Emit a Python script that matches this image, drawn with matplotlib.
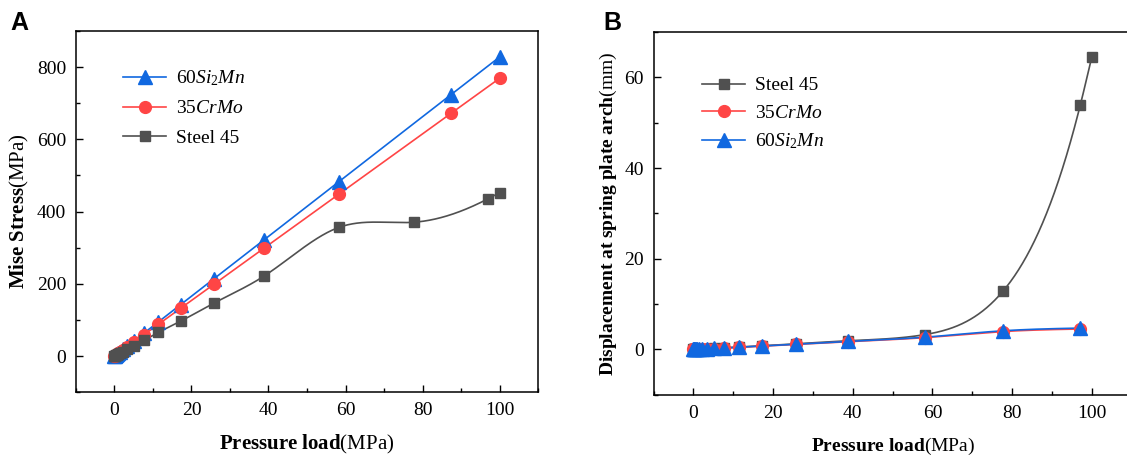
import numpy as np
import matplotlib
matplotlib.use("Agg")
import matplotlib.pyplot as plt
from matplotlib.ticker import MultipleLocator

plt.rcParams['font.family'] = 'Liberation Serif'
plt.rcParams['mathtext.fontset'] = 'custom'
plt.rcParams['mathtext.rm'] = 'Liberation Serif'
plt.rcParams['mathtext.it'] = 'Liberation Serif:italic'
plt.rcParams['mathtext.bf'] = 'Liberation Serif:bold'

# pressure load steps (MPa)
load = [0, 0.1, 0.2, 0.35, 0.575, 0.9125, 1.42, 2.18, 3.32, 5.03, 7.59,
        11.43, 17.19, 25.83, 38.79, 58.23, 87.40, 100]
load_steel = [0, 0.1, 0.2, 0.35, 0.575, 0.9125, 1.42, 2.18, 3.32, 5.03, 7.59,
              11.43, 17.19, 25.83, 38.79, 58.23, 77.67, 97.11, 100]
load_b = [0, 0.1, 0.2, 0.35, 0.575, 0.9125, 1.42, 2.18, 3.32, 5.03, 7.59,
          11.43, 17.19, 25.83, 38.79, 58.23, 77.67, 97.11]

# panel A: Mises stress (MPa)
stress_si2mn = [0, 0.8, 1.7, 2.9, 4.8, 7.6, 11.8, 18.1, 27.5, 41.6, 62.8,
                94.6, 142.3, 213.9, 321.2, 482.2, 724.0, 828.0]
stress_crmo = [0, 0.8, 1.5, 2.7, 4.4, 7.0, 10.9, 16.8, 25.5, 38.7, 58.4,
               87.9, 132.2, 198.6, 298.3, 448.0, 672.5, 769.0]
stress_steel = [0, 0.6, 1.1, 2.0, 3.2, 5.2, 8.0, 12.3, 18.8, 28.4, 43.0,
                65.5, 96.5, 146.5, 221.0, 356.0, 370.5, 436.0, 452.5]

# panel B: displacement (mm)
disp_steel = [0, 0.005, 0.01, 0.017, 0.028, 0.043, 0.068, 0.105, 0.16, 0.24,
              0.36, 0.54, 0.82, 1.25, 1.92, 3.3, 12.8, 53.8, 64.4]
disp_crmo = [0, 0.005, 0.009, 0.015, 0.025, 0.039, 0.062, 0.095, 0.145, 0.21,
             0.32, 0.48, 0.73, 1.12, 1.72, 2.62, 3.95, 4.52]
disp_si2mn = [0, 0.005, 0.009, 0.016, 0.026, 0.04, 0.065, 0.1, 0.15, 0.22,
              0.33, 0.5, 0.76, 1.16, 1.78, 2.72, 4.12, 4.72]

BLUE = '#1068E0'
RED = '#FF4545'
GRAY = '#505050'


def spline(x, y, n=600):
    # natural cubic spline through the points, for the smooth connecting line
    x = np.asarray(x, float)
    y = np.asarray(y, float)
    k = len(x)
    h = np.diff(x)
    A = np.zeros((k, k))
    r = np.zeros(k)
    A[0, 0] = A[-1, -1] = 1
    for i in range(1, k - 1):
        A[i, i - 1] = h[i - 1]
        A[i, i] = 2 * (h[i - 1] + h[i])
        A[i, i + 1] = h[i]
        r[i] = 6 * ((y[i + 1] - y[i]) / h[i] - (y[i] - y[i - 1]) / h[i - 1])
    m = np.linalg.solve(A, r)
    xs = np.linspace(x[0], x[-1], n)
    j = np.clip(np.searchsorted(x, xs) - 1, 0, k - 2)
    t = xs - x[j]
    hj = h[j]
    a = (x[j + 1] - xs) / hj
    b = t / hj
    ys = a * y[j] + b * y[j + 1] + ((a ** 3 - a) * m[j] + (b ** 3 - b) * m[j + 1]) * hj ** 2 / 6
    return xs, ys


def series(ax, x, y, color, marker, ms, label, lw=1.2):
    xs, ys = spline(x, y)
    ax.plot(xs, ys, color=color, lw=lw, zorder=2)
    ax.plot(x, y, ls='none', marker=marker, ms=ms, color=color, zorder=3)
    ax.plot([], [], color=color, lw=lw, marker=marker, ms=ms, label=label)


def style(ax):
    for s in ax.spines.values():
        s.set_linewidth(1.1)
    ax.tick_params(which='both', direction='in', top=False, right=False,
                   labelsize=14, width=1.0, pad=7)
    ax.tick_params(which='major', length=5)
    ax.tick_params(which='minor', length=3)
    ax.xaxis.set_major_locator(MultipleLocator(20))
    ax.xaxis.set_minor_locator(MultipleLocator(10))
    ax.set_xlim(-10, 110)


fig = plt.figure(figsize=(11.27, 4.57), dpi=100)

axA = fig.add_axes([0.0674, 0.142, 0.41, 0.790])
series(axA, load, stress_si2mn, BLUE, '^', 9.5, r'60$Si_2Mn$')
series(axA, load, stress_crmo, RED, 'o', 8.5, r'35$CrMo$')
series(axA, load_steel, stress_steel, GRAY, 's', 7, 'Steel 45')
style(axA)
axA.set_ylim(-100, 900)
axA.yaxis.set_major_locator(MultipleLocator(200))
axA.yaxis.set_minor_locator(MultipleLocator(100))
axA.set_xlabel(r'$\mathbf{Pressure\ load}$(MPa)', fontsize=15, labelpad=10)
axA.set_ylabel(r'$\mathbf{Mise\ Stress}$(MPa)', fontsize=15, labelpad=4)
axA.legend(loc='upper left', bbox_to_anchor=(0.065, 0.945), frameon=False,
           fontsize=14, handlelength=2.2, labelspacing=0.6, handletextpad=0.5)

axB = fig.add_axes([0.580, 0.136, 0.424, 0.794])
series(axB, load_steel, disp_steel, GRAY, 's', 7, 'Steel 45')
series(axB, load_b, disp_crmo, RED, 'o', 8.5, r'35$CrMo$')
series(axB, load_b, disp_si2mn, BLUE, '^', 9.5, r'60$Si_2Mn$')
style(axB)
axB.set_ylim(-10, 70)
axB.yaxis.set_major_locator(MultipleLocator(20))
axB.yaxis.set_minor_locator(MultipleLocator(10))
axB.set_xlabel(r'$\mathbf{Pressure\ load}$(MPa)', fontsize=14, labelpad=10)
axB.set_ylabel(r'$\mathbf{Displacement\ at\ spring\ plate\ arch}$(mm)', fontsize=14, labelpad=4)
axB.legend(loc='upper left', bbox_to_anchor=(0.065, 0.925), frameon=False,
           fontsize=14, handlelength=2.2, labelspacing=0.5, handletextpad=0.5)

fig.text(0.009, 0.935, 'A', fontsize=18, fontweight='bold', family='Liberation Sans')
fig.text(0.535, 0.935, 'B', fontsize=18, fontweight='bold', family='Liberation Sans')

fig.savefig('out.png', dpi=100)
